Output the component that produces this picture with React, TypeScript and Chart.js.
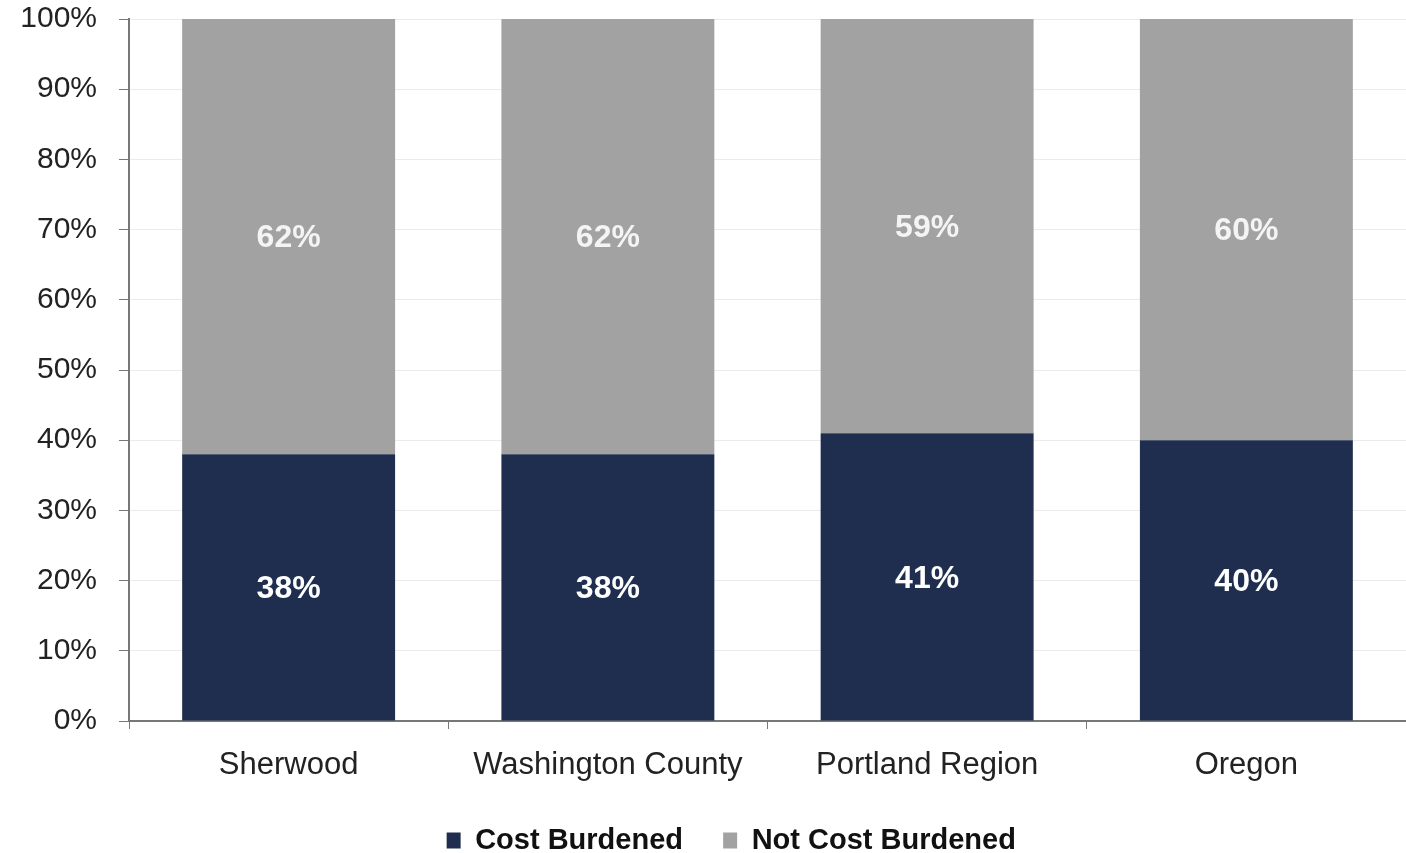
import React, { useEffect, useRef } from "react";
import { Chart, registerables } from "chart.js";

Chart.register(...registerables);

const categories = ["Sherwood", "Washington County", "Portland Region", "Oregon"];
const seriesNames = ["Cost Burdened", "Not Cost Burdened"];
const costBurdened = [38, 38, 41, 40];
const notCostBurdened = [62, 62, 59, 60];
const yTicks = [0, 10, 20, 30, 40, 50, 60, 70, 80, 90, 100];

const NAVY = "#1f2e4f";
const GRAY = "#a2a2a2";

const labelPlugin = {
  id: "barLabels",
  afterDatasetsDraw(chart: any) {
    const ctx = chart.ctx;
    ctx.save();
    ctx.textAlign = "center";
    ctx.textBaseline = "middle";
    chart.data.datasets.forEach((ds: any, di: number) => {
      const meta = chart.getDatasetMeta(di);
      meta.data.forEach((el: any, i: number) => {
        const { x, y, base } = el.getProps(["x", "y", "base"], true);
        ctx.fillStyle = di === 0 ? "#ffffff" : "#f4f4f4";
        ctx.font = "bold 32px 'Liberation Sans', Arial, sans-serif";
        ctx.fillText(ds.data[i] + "%", x, (y + base) / 2 + 2);
      });
    });
    ctx.restore();
  },
};

export default function App() {
  const ref = useRef<HTMLCanvasElement | null>(null);
  useEffect(() => {
    document.body.style.margin = "0";
    const chart = new Chart(ref.current!, {
      type: "bar",
      data: {
        labels: categories,
        datasets: [
          { label: seriesNames[0], data: costBurdened, backgroundColor: NAVY, categoryPercentage: 1, barPercentage: 0.667 },
          { label: seriesNames[1], data: notCostBurdened, backgroundColor: GRAY, categoryPercentage: 1, barPercentage: 0.667 },
        ],
      },
      options: {
        responsive: false,
        animation: false,
        layout: { padding: { top: 19, right: 0, bottom: -12, left: 0 } },
        plugins: {
          tooltip: { enabled: false },
          legend: {
            position: "bottom",
            fullSize: false,
            labels: {
              boxWidth: 14,
              boxHeight: 16,
              padding: 16,
              color: "#111",
              font: { family: "'Liberation Sans', Arial, sans-serif", size: 29, weight: "bold" },
              generateLabels: (chart: any) => {
                const items = Chart.defaults.plugins.legend.labels.generateLabels(chart);
                return items.map((it: any, i: number) => ({ ...it, text: i === 0 ? it.text + "   " : it.text + "         " }));
              },
            },
          },
        },
        scales: {
          x: {
            stacked: true,
            grid: { display: true, drawOnChartArea: false, tickColor: "#777", tickLength: 8, offset: true },
            border: { color: "#777", width: 2 },
            ticks: { color: "#222", padding: 18, font: { family: "'Liberation Sans', Arial, sans-serif", size: 31 } },
            afterFit: (s: any) => { s.height = 89; s.paddingLeft = 0; s.paddingRight = 0; },
          },
          y: {
            stacked: true,
            min: 0,
            max: 100,
            afterBuildTicks: (s: any) => { s.ticks = yTicks.map((v) => ({ value: v })); },
            grid: { color: "#ebebeb", tickColor: "#777", tickLength: 10 },
            border: { color: "#777", width: 2 },
            ticks: {
              color: "#222",
              padding: 22,
              font: { family: "'Liberation Sans', Arial, sans-serif", size: 30 },
              callback: (v: any) => v + "%",
            },
            afterFit: (s: any) => { s.width = 129; s.paddingTop = 0; s.paddingBottom = 0; },
          },
        },
      },
      plugins: [labelPlugin],
    });
    return () => chart.destroy();
  }, []);
  return <canvas ref={ref} width={1406} height={853} style={{ display: "block" }} />;
}
